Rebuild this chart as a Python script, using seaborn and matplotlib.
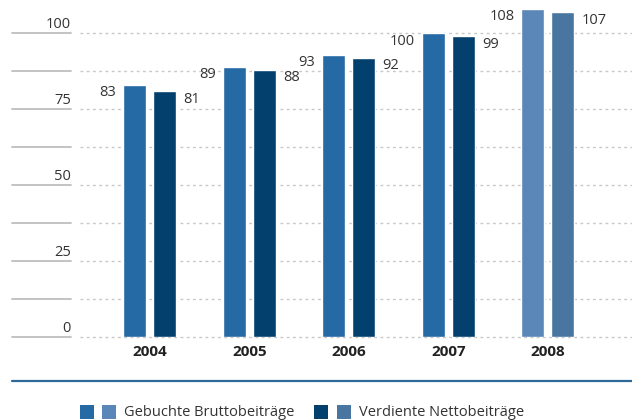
import pandas as pd
import numpy as np
import matplotlib
matplotlib.use('Agg')
import matplotlib.pyplot as plt
import seaborn as sns
from matplotlib.patches import Rectangle
from matplotlib.lines import Line2D

years = ['2004', '2005', '2006', '2007', '2008']
gross = [83, 89, 93, 100, 108]
net = [81, 88, 92, 99, 107]
series = ['Gebuchte Bruttobeiträge', 'Verdiente Nettobeiträge']
ticks = [0, 25, 50, 75, 100]

col_gross = '#2569a5'
col_net = '#03406e'
col_gross_08 = '#5a87b8'
col_net_08 = '#4876a0'
txt = '#333333'

sns.set_theme(style='white')
plt.rcParams['font.family'] = ['Open Sans', 'DejaVu Sans']

df = pd.DataFrame({
    'year': years * 2,
    'value': gross + net,
    'series': [series[0]] * len(years) + [series[1]] * len(years),
})

W, H = 632, 420
fig = plt.figure(figsize=(W / 100, H / 100), dpi=100)
zero_px = 337.3
px_per_unit = 3.04
ax = fig.add_axes([0, (H - zero_px) / H, 1, zero_px / H])

sns.barplot(data=df, x='year', y='value', hue='series',
            palette=[col_gross, col_net], width=0.603, gap=0.233,
            saturation=1, legend=False, ax=ax, zorder=3)

# light colours for the last year
ax.containers[0][4].set_facecolor(col_gross_08)
ax.containers[1][4].set_facecolor(col_net_08)

c0, step = 149.7, 99.55
ax.set_xlim(-c0 / step, (W - c0) / step)
ax.set_ylim(0, zero_px / px_per_unit)

# gridlines: solid stub on the left, dotted across the plot
for y in np.arange(0, 100.1, 12.5):
    ax.axhline(y, xmin=12 / W, xmax=71 / W, color='#bebebe', lw=1.3,
               clip_on=False, zorder=1)
    ax.axhline(y, xmin=80 / W, xmax=1, color='#c8c8c8', lw=1.0,
               ls=(0, (2, 2.5)), clip_on=False, zorder=1)

for t in ticks:
    ax.annotate(str(t), xy=(71 / W, t), xycoords=ax.get_yaxis_transform(),
                xytext=(0, 5), textcoords='offset pixels',
                ha='right', va='baseline', fontsize=10.5, color=txt)

# value labels
for bar, v in zip(ax.containers[0], gross):
    ax.annotate(str(v), xy=(bar.get_x(), bar.get_height()),
                xytext=(-7, -8), textcoords='offset pixels',
                ha='right', va='center', fontsize=10.5, color=txt)
for bar, v in zip(ax.containers[1], net):
    ax.annotate(str(v), xy=(bar.get_x() + bar.get_width(), bar.get_height()),
                xytext=(7, -8), textcoords='offset pixels',
                ha='left', va='center', fontsize=10.5, color=txt)

ax.set_xlabel('')
ax.set_ylabel('')
ax.set_yticks([])
ax.set_xticks(range(len(years)))
ax.set_xticklabels(years, fontweight='bold', fontsize=11, color='#222222')
ax.tick_params(axis='x', length=0, pad=5.5)
sns.despine(ax=ax, left=True, bottom=True)

# blue rule above the legend
fig.add_artist(Line2D([12 / W, 1], [(H - 381) / H] * 2, color='#2d6a99', lw=1.6))

# legend
sq = 14
for x, c in [(80, col_gross), (102, col_gross_08), (314, col_net), (337, col_net_08)]:
    fig.add_artist(Rectangle((x / W, (H - 419) / H), sq / W, sq / H,
                             facecolor=c, edgecolor='none', transform=fig.transFigure))
fig.text(124 / W, (H - 412) / H, series[0], ha='left', va='center',
         fontsize=10.5, color=txt)
fig.text(359 / W, (H - 412) / H, series[1], ha='left', va='center',
         fontsize=10.5, color=txt)

fig.savefig('out.png', dpi=100)
